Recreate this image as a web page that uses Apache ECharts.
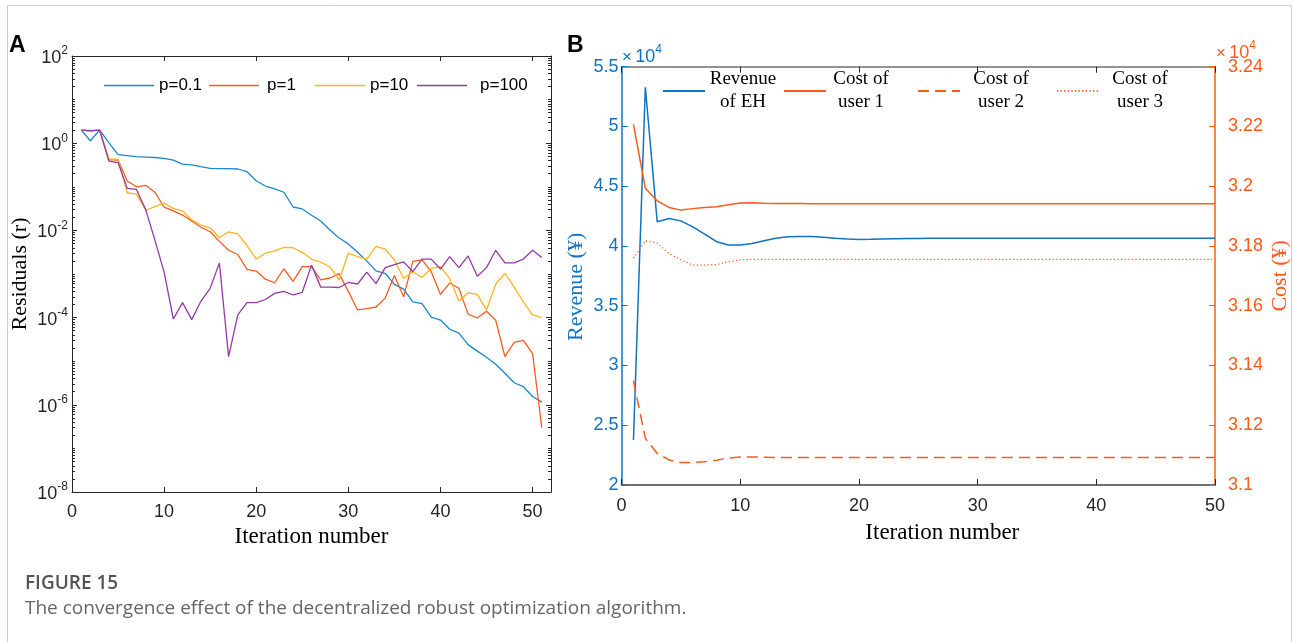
<!DOCTYPE html>
<html>
<head>
<meta charset="utf-8">
<script src="https://cdn.jsdelivr.net/npm/echarts@6/dist/echarts.min.js"></script>
<style>
html,body{margin:0;padding:0;background:#fff;}
#c{width:1293px;height:642px;}
</style>
</head>
<body>
<div id="c"></div>
<script>
// ---------- Panel A data (iteration 1..51) ----------
const iterA = [1,2,3,4,5,6,7,8,9,10,11,12,13,14,15,16,17,18,19,20,21,22,23,24,25,26,27,28,29,30,31,32,33,34,35,36,37,38,39,40,41,42,43,44,45,46,47,48,49,50,51];
const resP01 = [2.0,1.14,2.0,1.03,0.545,0.52,0.49,0.48,0.47,0.45,0.41,0.33,0.32,0.29,0.265,0.26,0.26,0.256,0.222,0.138,0.104,0.09,0.075,0.0344,0.031,0.0222,0.0164,0.0102,0.0067,0.0049,0.00315,0.002,0.00118,0.00104,0.00058,0.00045,0.00023,0.00021,0.000103,0.000088,0.000054,0.000044,0.000024,0.000017,0.0000123,0.0000085,0.0000053,0.0000032,0.0000026,0.00000155,0.00000115];
const resP1 = [2.0,1.9,2.0,0.42,0.41,0.136,0.1,0.108,0.075,0.034,0.028,0.0225,0.0165,0.0118,0.0093,0.0056,0.0035,0.0028,0.00128,0.00117,0.00076,0.00063,0.00132,0.00068,0.00147,0.00147,0.00073,0.00081,0.00102,0.0004,0.00015,0.00016,0.000175,0.00028,0.00092,0.0003,0.00195,0.0021,0.00113,0.00034,0.00062,0.00047,0.00012,0.000098,0.00014,0.000087,0.0000127,0.000027,0.00003,0.000015,0.0000003];
const resP10 = [2.0,1.95,2.0,0.43,0.43,0.073,0.068,0.029,0.035,0.042,0.032,0.028,0.0174,0.0133,0.0115,0.0068,0.0093,0.0083,0.0045,0.0022,0.003,0.0034,0.0041,0.004,0.0031,0.0022,0.00188,0.00145,0.00073,0.003,0.0025,0.0022,0.0043,0.0037,0.0021,0.00079,0.00113,0.00083,0.00135,0.00147,0.00079,0.00024,0.00037,0.00034,0.00015,0.00059,0.00104,0.0005,0.00023,0.000115,0.0001];
const resP100 = [2.0,1.95,2.0,0.39,0.36,0.092,0.087,0.03,0.006,0.0011,0.000093,0.00022,0.00009,0.00024,0.00047,0.0018,0.0000127,0.000115,0.00022,0.00022,0.00026,0.00036,0.0004,0.00033,0.00038,0.0016,0.0005,0.0005,0.00049,0.00064,0.00059,0.0011,0.0006,0.0014,0.00165,0.0019,0.00113,0.0022,0.0022,0.0013,0.0025,0.0014,0.0026,0.00089,0.0014,0.0035,0.0018,0.0018,0.0022,0.0035,0.0024];
const namesA = ['p=0.1','p=1','p=10','p=100'];
const xTicksA = [0,10,20,30,40,50];
const yTicksA = [1e-8,1e-6,1e-4,1e-2,1,100];

// ---------- Panel B data (iteration 1..50), in ¥ ----------
const iterB = [1,2,3,4,5,6,7,8,9,10,11,12,13,14,15,16,17,18,19,20,21,22,23,24,25,26,27,28,29,30,31,32,33,34,35,36,37,38,39,40,41,42,43,44,45,46,47,48,49,50];
const revenueEH = [23770,53280,42030,42300,42100,41600,41000,40360,40080,40080,40200,40440,40640,40780,40800,40800,40720,40640,40580,40550,40560,40580,40600,40620,40630,40640,40640,40640,40640,40640,40640,40640,40640,40640,40640,40640,40640,40640,40640,40640,40640,40640,40640,40640,40640,40640,40640,40640,40640,40640];
const costUser1 = [32207,31993,31951,31929,31920,31925,31929,31931,31938,31944,31945,31943,31942,31942,31942,31941,31941,31941,31941,31941,31941,31941,31941,31941,31941,31941,31941,31941,31941,31941,31941,31941,31941,31941,31941,31941,31941,31941,31941,31941,31941,31941,31941,31941,31941,31941,31941,31941,31941,31941];
const costUser2 = [31349,31156,31106,31084,31075,31075,31078,31083,31090,31094,31094,31093,31092,31092,31092,31092,31092,31092,31092,31092,31092,31092,31092,31092,31092,31092,31092,31092,31092,31092,31092,31092,31092,31092,31092,31092,31092,31092,31092,31092,31092,31092,31092,31092,31092,31092,31092,31092,31092,31092];
const costUser3 = [31759,31817,31809,31775,31753,31736,31736,31738,31747,31754,31755,31755,31755,31755,31755,31755,31755,31755,31755,31755,31755,31755,31755,31755,31755,31755,31755,31755,31755,31755,31755,31755,31755,31755,31755,31755,31755,31755,31755,31755,31755,31755,31755,31755,31755,31755,31755,31755,31755,31755];
const namesB = ['Revenue\nof EH','Cost of\nuser 1','Cost of\nuser 2','Cost of\nuser 3'];

// ---------- styling ----------
const SANS = 'Liberation Sans, Arial, sans-serif';
const SERIF = 'Liberation Serif, Times New Roman, serif';
const AX = '#262626';
const colA = ['#1b86d2','#ff5a1e','#ffb41c','#943aa6'];
const BLUE = '#0f72c2';
const ORANGE = '#ff5a1a';

const pairs = (xs, ys) => xs.map((x, i) => [x, ys[i]]);

// minor ticks for log axis (2..9 x 10^n and the skipped decades)
const minorLog = [];
for (let d = -8; d <= 1; d++) {
  for (let m = 1; m <= 9; m++) {
    if (m === 1 && (d % 2 === 0)) continue;
    minorLog.push(m * Math.pow(10, d));
  }
}

const supLabel = v => {
  const e = Math.round(Math.log10(v));
  return '{b|10}{s|' + e + '}';
};
const supRich = {
  b: {fontSize: 18, fontFamily: SANS, color: AX, lineHeight: 22, verticalAlign: 'bottom'},
  s: {fontSize: 12, fontFamily: SANS, color: AX, lineHeight: 12, verticalAlign: 'top'}
};

const GA = {left: 72, top: 56, width: 479, height: 436};
const GB = {left: 621.6, top: 66.7, width: 593.4, height: 418.3};

const seriesA = [resP01, resP1, resP10, resP100].map((arr, i) => ({
  name: namesA[i], type: 'line', xAxisIndex: 0, yAxisIndex: 0,
  data: pairs(iterA, arr), showSymbol: false, symbol: 'none',
  lineStyle: {width: 1.3, color: colA[i]}, itemStyle: {color: colA[i]},
  z: 3
}));

const seriesB = [
  {name: namesB[0], type: 'line', xAxisIndex: 4, yAxisIndex: 6, data: pairs(iterB, revenueEH),
   symbol: 'none', showSymbol: false, lineStyle: {width: 1.5, color: BLUE}, itemStyle: {color: BLUE}},
  {name: namesB[1], type: 'line', xAxisIndex: 4, yAxisIndex: 7, data: pairs(iterB, costUser1),
   symbol: 'none', showSymbol: false, lineStyle: {width: 1.5, color: ORANGE}, itemStyle: {color: ORANGE}},
  {name: namesB[2], type: 'line', xAxisIndex: 4, yAxisIndex: 7, data: pairs(iterB, costUser2),
   symbol: 'none', showSymbol: false, lineStyle: {width: 1.5, color: ORANGE, type: [11, 6]}, itemStyle: {color: ORANGE}},
  {name: namesB[3], type: 'line', xAxisIndex: 4, yAxisIndex: 7, data: pairs(iterB, costUser3),
   symbol: 'none', showSymbol: false, lineStyle: {width: 1.3, color: ORANGE, type: [1.2, 2.4]}, itemStyle: {color: ORANGE}}
];

function legendA(idx, left, padLeft) {
  return {
    data: [namesA[idx]], left: left, top: 77, padding: 0, itemWidth: 50, itemHeight: 14,
    icon: 'path://M0,6 L50,6 L50,7.3 L0,7.3 Z',
    itemStyle: {color: colA[idx]},
    formatter: n => '{t|' + n + '}',
    textStyle: {rich: {t: {fontSize: 17, fontFamily: SANS, color: '#000', padding: [0, 0, 0, padLeft]}}},
    selectedMode: false
  };
}
function legendB(idx, left, w) {
  return {
    data: [namesB[idx]], left: left, top: 70, padding: 0, itemWidth: 42, itemHeight: 14,
    itemStyle: {opacity: 0, borderWidth: 0},
    formatter: n => n.split('\n').map(s => '{t|' + s + '}').join('\n'),
    textStyle: {rich: {t: {fontSize: 19, fontFamily: SERIF, color: '#000', width: w, align: 'center', lineHeight: 23}}},
    selectedMode: false
  };
}

// helper axes that only carry tick marks (shifted inward so outward ticks sit inside the box)
function tickX(pos, len) {
  return {gridIndex: 0, type: 'value', position: pos, min: 0, max: 52, offset: -len,
    axisLine: {show: false, onZero: false},
    axisTick: {show: true, inside: false, length: len, customValues: xTicksA, lineStyle: {color: AX}},
    axisLabel: {show: false}, splitLine: {show: false}};
}
function tickY(pos, len, vals) {
  return {gridIndex: 0, type: 'log', logBase: 10, position: pos, min: 1e-8, max: 100, offset: -len,
    axisLine: {show: false, onZero: false},
    axisTick: {show: true, inside: false, length: len, customValues: vals, lineStyle: {color: AX}},
    axisLabel: {show: false}, splitLine: {show: false}};
}

const option = {
  animation: false,
  backgroundColor: '#fff',
  grid: [
    Object.assign({show: false, containLabel: false, outerBoundsMode: 'none'}, GA),
    Object.assign({show: false, containLabel: false, outerBoundsMode: 'none'}, GB)
  ],
  legend: [
    legendA(0, 104, 0), legendA(1, 209, 3), legendA(2, 315, 0), legendA(3, 417, 8),
    legendB(0, 662, 66), legendB(1, 783, 60), legendB(2, 917, 72), legendB(3, 1056, 72)
  ],
  xAxis: [
    {gridIndex: 0, type: 'value', position: 'bottom', min: 0, max: 52,
     axisLine: {show: true, onZero: false, lineStyle: {color: AX, width: 1}},
     axisTick: {show: false},
     axisLabel: {customValues: xTicksA, fontSize: 18, fontFamily: SANS, color: AX, margin: 11},
     splitLine: {show: false},
     name: 'Iteration number', nameLocation: 'middle', nameGap: 32,
     nameTextStyle: {fontFamily: SERIF, fontSize: 23, color: '#000'}},
    {gridIndex: 0, type: 'value', position: 'top', min: 0, max: 52,
     axisLine: {show: true, onZero: false, lineStyle: {color: AX, width: 1}},
     axisTick: {show: false}, axisLabel: {show: false}, splitLine: {show: false}},
    tickX('bottom', 5),
    tickX('top', 5),
    {gridIndex: 1, type: 'value', position: 'bottom', min: 0, max: 50, interval: 10,
     axisLine: {show: true, onZero: false, lineStyle: {color: '#707070', width: 2}},
     axisTick: {show: true, inside: true, length: 6, lineStyle: {color: AX}},
     axisLabel: {fontSize: 18, fontFamily: SANS, color: AX, margin: 12},
     splitLine: {show: false},
     name: 'Iteration number', nameLocation: 'middle', nameGap: 36,
     nameTextStyle: {fontFamily: SERIF, fontSize: 23, color: '#000', padding: [0, 0, 0, 48]}},
    {gridIndex: 1, type: 'value', position: 'top', min: 0, max: 50, interval: 10,
     axisLine: {show: true, onZero: false, lineStyle: {color: '#707070', width: 1.5}},
     axisTick: {show: true, inside: true, length: 6, lineStyle: {color: AX}},
     axisLabel: {show: false}, splitLine: {show: false}}
  ],
  yAxis: [
    {gridIndex: 0, type: 'log', logBase: 10, position: 'left', min: 1e-8, max: 100,
     axisLine: {show: true, onZero: false, lineStyle: {color: AX, width: 1}},
     axisTick: {show: false},
     axisLabel: {customValues: yTicksA, formatter: supLabel, rich: supRich, margin: 4},
     splitLine: {show: false},
     name: 'Residuals (r)', nameLocation: 'middle', nameGap: 41, nameRotate: 90,
     nameTextStyle: {fontFamily: SERIF, fontSize: 22, color: '#000'}},
    {gridIndex: 0, type: 'log', logBase: 10, position: 'right', min: 1e-8, max: 100,
     axisLine: {show: true, onZero: false, lineStyle: {color: AX, width: 1}},
     axisTick: {show: false}, axisLabel: {show: false}, splitLine: {show: false}},
    tickY('left', 5, yTicksA),
    tickY('right', 5, yTicksA),
    tickY('left', 3, minorLog),
    tickY('right', 3, minorLog),
    {gridIndex: 1, type: 'value', position: 'left', min: 20000, max: 55000, interval: 5000,
     axisLine: {show: true, onZero: false, lineStyle: {color: BLUE, width: 1.5}},
     axisTick: {show: true, inside: true, length: 6, lineStyle: {color: BLUE}},
     axisLabel: {fontSize: 18, fontFamily: SANS, color: BLUE, margin: 3,
       formatter: v => String(Math.round(v / 1000) / 10)},
     splitLine: {show: false},
     name: 'Revenue (¥)', nameLocation: 'middle', nameGap: 34, nameRotate: 90,
     nameTextStyle: {fontFamily: SERIF, fontSize: 22, color: BLUE, padding: [0, 22, 0, 0]}},
    {gridIndex: 1, type: 'value', position: 'right', min: 31000, max: 32400, interval: 200,
     axisLine: {show: true, onZero: false, lineStyle: {color: ORANGE, width: 1.5}},
     axisTick: {show: true, inside: true, length: 6, lineStyle: {color: ORANGE}},
     axisLabel: {fontSize: 18, fontFamily: SANS, color: ORANGE, margin: 13,
       formatter: v => String(Math.round(v / 100) / 100)},
     splitLine: {show: false},
     name: 'Cost (¥)', nameLocation: 'middle', nameGap: 54, nameRotate: 90,
     nameTextStyle: {fontFamily: SERIF, fontSize: 22, color: ORANGE}}
  ],
  series: seriesA.concat(seriesB),
  graphic: [
    {type: 'rect', silent: true, shape: {x: 7.5, y: 5.5, width: 1284, height: 700},
     style: {fill: 'none', stroke: '#cfcfcf', lineWidth: 1}},
    {type: 'text', left: 9, top: 34, style: {text: 'A', font: 'bold 23px ' + SANS, fill: '#000'}},
    {type: 'text', left: 567, top: 34, style: {text: 'B', font: 'bold 23px ' + SANS, fill: '#000'}},
    {type: 'text', left: 622, top: 44, style: {
      text: '{x|×} {b|10}{s|4}',
      rich: {x: {fontSize: 17, fontFamily: SANS, fill: BLUE, lineHeight: 22, verticalAlign: 'bottom'},
             b: {fontSize: 18, fontFamily: SANS, fill: BLUE, lineHeight: 22, verticalAlign: 'bottom'},
             s: {fontSize: 12, fontFamily: SANS, fill: BLUE, lineHeight: 12, verticalAlign: 'top'}}}},
    {type: 'text', left: 1216, top: 40, style: {
      text: '{x|×} {b|10}{s|4}',
      rich: {x: {fontSize: 17, fontFamily: SANS, fill: ORANGE, lineHeight: 22, verticalAlign: 'bottom'},
             b: {fontSize: 18, fontFamily: SANS, fill: ORANGE, lineHeight: 22, verticalAlign: 'bottom'},
             s: {fontSize: 12, fontFamily: SANS, fill: ORANGE, lineHeight: 12, verticalAlign: 'top'}}}},
    {type: 'text', left: 25, top: 574, style: {text: 'FIGURE 15', font: '600 19px "Open Sans", sans-serif', fill: '#555'}},
    {type: 'text', left: 25, top: 599, style: {text: 'The convergence effect of the decentralized robust optimization algorithm.', font: '19px "Open Sans", sans-serif', fill: '#666'}}
  ]
};

const chart = echarts.init(document.getElementById('c'), null, {renderer: 'canvas'});
chart.setOption(option);
</script>
</body>
</html>
